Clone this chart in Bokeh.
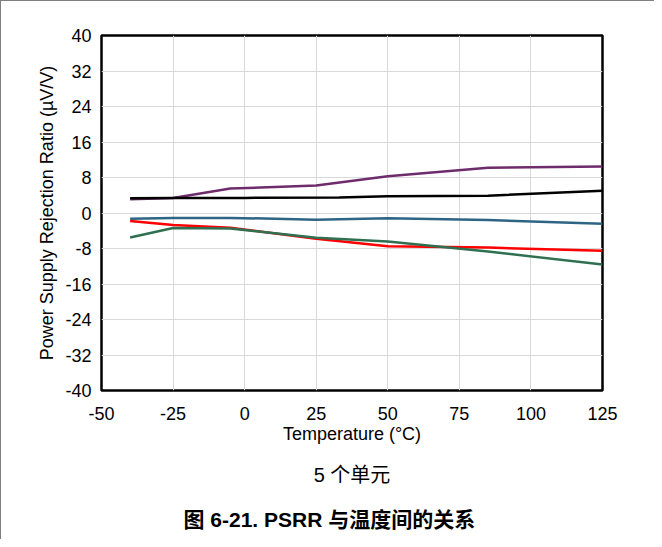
from bokeh.plotting import figure
from bokeh.models import FixedTicker, Range1d, Title
from bokeh.embed import file_html
from bokeh.resources import INLINE

# ---- data ----
t_purple = [-40, -25, -5, 25, 50, 85, 125]
v_purple = [3.1, 3.4, 5.5, 6.2, 8.3, 10.2, 10.5]
t_black = [-40, -25, 0, 33, 50, 85, 125]
v_black = [3.3, 3.4, 3.4, 3.5, 3.8, 3.9, 5.0]
t_blue = [-40, -25, -5, 25, 50, 85, 125]
v_blue = [-1.3, -1.1, -1.1, -1.5, -1.2, -1.6, -2.4]
t_red = [-40, -25, -5, 25, 50, 85, 125]
v_red = [-1.8, -2.7, -3.3, -5.8, -7.5, -7.8, -8.5]
t_green = [-40, -25, -5, 25, 50, 85, 125]
v_green = [-5.5, -3.4, -3.5, -5.6, -6.4, -8.7, -11.6]

x_ticks = [-50, -25, 0, 25, 50, 75, 100, 125]
y_ticks = [-40, -32, -24, -16, -8, 0, 8, 16, 24, 32, 40]

x_label = "Temperature (°C)"
y_label = "Power Supply Rejection Ratio (µV/V)"
sub_caption = "5 个单元"
caption = "图 6-21. PSRR 与温度间的关系"

FONT = "'Liberation Sans', 'Noto Sans CJK SC'"

p = figure(width=654, height=539, output_backend="svg", toolbar_location=None,
           x_range=Range1d(-50, 125), y_range=Range1d(-40, 40),
           min_border_left=100, min_border_right=53,
           min_border_top=34, min_border_bottom=150)
p.styles = {"border-left": "1px solid #7f7f7f", "border-top": "1px solid #7f7f7f"}

p.outline_line_color = "black"
p.outline_line_width = 2.5
p.background_fill_color = "white"
p.border_fill_color = "white"

p.xaxis.ticker = FixedTicker(ticks=x_ticks)
p.yaxis.ticker = FixedTicker(ticks=y_ticks)
p.xaxis.major_label_overrides = {t: str(t) for t in x_ticks}
p.yaxis.major_label_overrides = {t: str(t) for t in y_ticks}
for ax in (p.xaxis, p.yaxis):
    ax.axis_line_color = None
    ax.major_tick_line_color = None
    ax.minor_tick_line_color = None
    ax.major_label_text_font = FONT
    ax.major_label_text_font_size = "18px"
    ax.major_label_text_color = "black"
    ax.axis_label_text_font = FONT
    ax.axis_label_text_font_size = "18px"
    ax.axis_label_text_font_style = "normal"
    ax.axis_label_text_color = "black"
p.xaxis.axis_label = x_label
p.yaxis.axis_label = y_label
p.xaxis.major_label_standoff = 10
p.yaxis.major_label_standoff = 4
p.xaxis.axis_label_standoff = 1
p.yaxis.axis_label_standoff = 5

p.xgrid.grid_line_color = "#d9d9d9"
p.ygrid.grid_line_color = "#d9d9d9"
p.xgrid.grid_line_width = 1
p.ygrid.grid_line_width = 1

lw = 2.5
p.line(t_purple, v_purple, line_color="#6e2c6c", line_width=lw)
p.line(t_black, v_black, line_color="black", line_width=lw)
p.line(t_blue, v_blue, line_color="#2e6585", line_width=lw)
p.line(t_red, v_red, line_color="#ff0000", line_width=lw)
p.line(t_green, v_green, line_color="#2e7050", line_width=lw)

p.add_layout(Title(text=sub_caption, align="center", text_font=FONT,
                   text_font_size="20px", text_font_style="normal",
                   text_color="black", standoff=30), "below")
p.add_layout(Title(text=caption, align="left", offset=82, text_font=FONT,
                   text_font_size="21px", text_font_style="bold",
                   text_color="black", standoff=10), "below")

open("out.html", "w").write(file_html(p, INLINE))
